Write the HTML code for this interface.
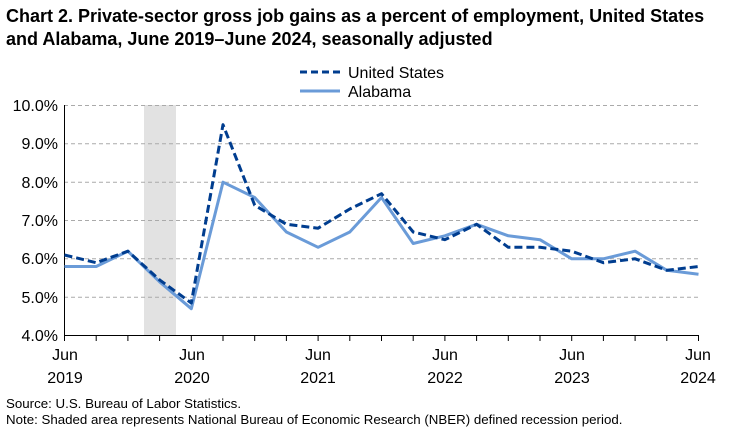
<!DOCTYPE html>
<html><head><meta charset="utf-8"><style>
body{margin:0;background:#fff;}
svg{display:block;font-family:"Liberation Sans",Arial,sans-serif;}
</style></head><body>
<svg width="731" height="432" viewBox="0 0 731 432">
<text x="6" y="22" font-size="18" font-weight="bold" fill="#000">Chart 2. Private-sector gross job gains as a percent of employment, United States</text>
<text x="6" y="45" font-size="18" font-weight="bold" fill="#000">and Alabama, June 2019–June 2024, seasonally adjusted</text>
<line x1="300" y1="72" x2="340" y2="72" stroke="#003d8f" stroke-width="3" stroke-dasharray="7,4"/>
<text x="348" y="78" font-size="16">United States</text>
<line x1="300" y1="91" x2="340" y2="91" stroke="#6a9bd8" stroke-width="3"/>
<text x="348" y="97" font-size="16">Alabama</text>
<rect x="144" y="105" width="32" height="230" fill="#e2e2e2"/>
<g stroke="#aaa" stroke-width="1" stroke-dasharray="4,3">
<line x1="64" y1="105.5" x2="698" y2="105.5"/>
<line x1="64" y1="143.8" x2="698" y2="143.8"/>
<line x1="64" y1="182.2" x2="698" y2="182.2"/>
<line x1="64" y1="220.5" x2="698" y2="220.5"/>
<line x1="64" y1="258.8" x2="698" y2="258.8"/>
<line x1="64" y1="297.2" x2="698" y2="297.2"/>
</g>
<g font-size="16" text-anchor="end">
<text x="58" y="111">10.0%</text><text x="58" y="149">9.0%</text><text x="58" y="188">8.0%</text>
<text x="58" y="226">7.0%</text><text x="58" y="264">6.0%</text><text x="58" y="303">5.0%</text><text x="58" y="341">4.0%</text>
</g>
<line x1="64.5" y1="105" x2="64.5" y2="336" stroke="#000"/>
<line x1="64" y1="335.5" x2="699" y2="335.5" stroke="#000"/>
<g stroke="#000">
<line x1="64.5" y1="335" x2="64.5" y2="341"/><line x1="96.2" y1="335" x2="96.2" y2="341"/><line x1="127.9" y1="335" x2="127.9" y2="341"/><line x1="159.6" y1="335" x2="159.6" y2="341"/><line x1="191.3" y1="335" x2="191.3" y2="341"/><line x1="223" y1="335" x2="223" y2="341"/><line x1="254.7" y1="335" x2="254.7" y2="341"/><line x1="286.4" y1="335" x2="286.4" y2="341"/><line x1="318.1" y1="335" x2="318.1" y2="341"/><line x1="349.8" y1="335" x2="349.8" y2="341"/><line x1="381.5" y1="335" x2="381.5" y2="341"/><line x1="413.2" y1="335" x2="413.2" y2="341"/><line x1="444.9" y1="335" x2="444.9" y2="341"/><line x1="476.6" y1="335" x2="476.6" y2="341"/><line x1="508.3" y1="335" x2="508.3" y2="341"/><line x1="540" y1="335" x2="540" y2="341"/><line x1="571.7" y1="335" x2="571.7" y2="341"/><line x1="603.4" y1="335" x2="603.4" y2="341"/><line x1="635.1" y1="335" x2="635.1" y2="341"/><line x1="666.8" y1="335" x2="666.8" y2="341"/><line x1="698.5" y1="335" x2="698.5" y2="341"/>
</g>
<g font-size="16" text-anchor="middle">
<text x="65" y="360">Jun</text><text x="65" y="383">2019</text>
<text x="192" y="360">Jun</text><text x="192" y="383">2020</text>
<text x="318" y="360">Jun</text><text x="318" y="383">2021</text>
<text x="445" y="360">Jun</text><text x="445" y="383">2022</text>
<text x="572" y="360">Jun</text><text x="572" y="383">2023</text>
<text x="698" y="360">Jun</text><text x="698" y="383">2024</text>
</g>
<polyline fill="none" stroke="#6a9bd8" stroke-width="3" stroke-linejoin="round" points="64.5,266.5 96.2,266.5 127.9,251.2 159.6,281.8 191.3,308.7 223,182.2 254.7,197.5 286.4,232 318.1,247.3 349.8,232 381.5,197.5 413.2,243.5 444.9,235.8 476.6,224.3 508.3,235.8 540,239.7 571.7,258.8 603.4,258.8 635.1,251.2 666.8,270.3 698.5,274.2"/>
<polyline fill="none" stroke="#003d8f" stroke-width="3" stroke-dasharray="8,4" stroke-linejoin="round" points="64.5,255 96.2,262.7 127.9,251.2 159.6,279.9 191.3,303 223,124.7 254.7,205.2 286.4,224.3 318.1,228.2 349.8,209 381.5,193.7 413.2,232 444.9,239.7 476.6,224.3 508.3,247.3 540,247.3 571.7,251.2 603.4,262.7 635.1,258.8 666.8,270.3 698.5,266.5"/>
<text x="6" y="408" font-size="13.3">Source: U.S. Bureau of Labor Statistics.</text>
<text x="6" y="424" font-size="13.3">Note: Shaded area represents National Bureau of Economic Research (NBER) defined recession period.</text>
</svg>
</body></html>
